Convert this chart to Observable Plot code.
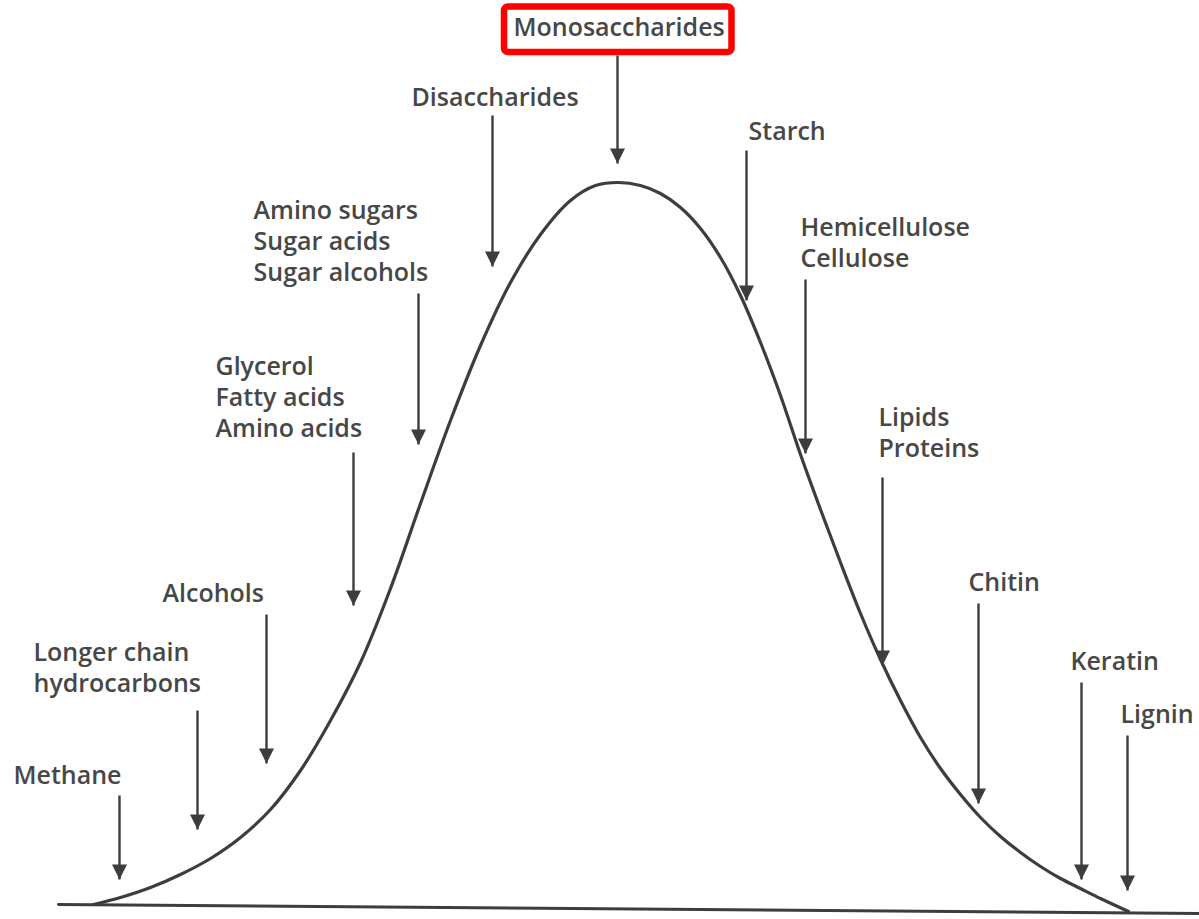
<!DOCTYPE html>
<html>
<head>
<meta charset="utf-8">
<script src="https://cdn.jsdelivr.net/npm/d3@7"></script>
<script src="https://cdn.jsdelivr.net/npm/@observablehq/plot@0.6"></script>
<style>
  html, body { margin: 0; padding: 0; background: #ffffff; }
  #chart svg { display: block; }
</style>
</head>
<body>
<div id="chart"></div>
<script>
// Bell curve (in picture units)
const curveX = [93, 120, 150, 180, 210, 240, 270, 300, 330, 360, 390, 420, 450, 480, 510, 540, 570, 595, 618,
                640, 660, 680, 700, 720, 740, 760, 780, 800, 820, 840, 860, 880, 900, 920, 940, 960, 980, 1000, 1020, 1040, 1060, 1080, 1100, 1128];
const curveY = [904, 897, 887, 874, 858, 837, 809, 770, 720, 662, 588, 503, 420, 345, 282, 234, 200, 185, 182,
                185, 193, 207, 228, 257, 295, 342, 395, 454, 509, 562, 613, 659, 700, 737, 768, 794, 817, 836, 852, 866, 878, 888, 898, 911];

// Baseline
const baseX = [58, 1199];
const baseY = [904, 913];

// Labels
const labelText = [
  "Methane",
  "Longer chain\nhydrocarbons",
  "Alcohols",
  "Glycerol\nFatty acids\nAmino acids",
  "Amino sugars\nSugar acids\nSugar alcohols",
  "Disaccharides",
  "Monosaccharides",
  "Starch",
  "Hemicellulose\nCellulose",
  "Lipids\nProteins",
  "Chitin",
  "Keratin",
  "Lignin"
];
const labelX = [13, 33, 162, 215, 253, 411, 513, 748, 800, 878, 968, 1070, 1120];
const labelY = [761, 638, 579, 352, 196, 83, 13, 117, 213, 403, 568, 647, 700];

// Arrows: x, top of shaft, tip
const arrowX   = [119, 197, 266, 353, 418, 492, 617, 746, 805, 882, 978, 1081, 1127];
const arrowTop = [795, 710, 614, 452, 293, 115, 55, 150, 279, 477, 603, 682, 735];
const arrowTip = [879, 829, 763, 605, 444, 266, 163, 300, 453, 665, 803, 879, 890];

// Highlight box around the top label
const boxX1 = [504], boxX2 = [731.5], boxY1 = [6.5], boxY2 = [52];

const curve = curveX.map((x, i) => ({x, y: curveY[i]}));
const base = baseX.map((x, i) => ({x, y: baseY[i]}));
const labels = labelText.map((t, i) => ({t, x: labelX[i], y: labelY[i]}));
const arrows = arrowX.map((x, i) => ({x, y1: arrowTop[i], y2: arrowTip[i]}));
const box = boxX1.map((x1, i) => ({x1, x2: boxX2[i], y1: boxY1[i], y2: boxY2[i]}));

const downTriangle = {
  draw(ctx) {
    ctx.moveTo(0, 0);
    ctx.lineTo(-7.5, -15);
    ctx.lineTo(7.5, -15);
    ctx.closePath();
  }
};

const ink = "#3d3d3d";
const textInk = "#474747";

const chart = Plot.plot({
  width: 1199,
  height: 919,
  margin: 0,
  style: {background: "#ffffff", overflow: "visible"},
  x: {domain: [0, 1199], range: [0, 1199], axis: null},
  y: {domain: [0, 919], range: [0, 919], axis: null},
  marks: [
    Plot.line(base, {x: "x", y: "y", stroke: ink, strokeWidth: 3}),
    Plot.line(curve, {x: "x", y: "y", curve: "catmull-rom", stroke: ink, strokeWidth: 3.2}),
    Plot.link(arrows, {x1: "x", x2: "x", y1: "y1", y2: "y2", stroke: ink, strokeWidth: 2.4}),
    Plot.dot(arrows, {x: "x", y: "y2", symbol: downTriangle, fill: ink, stroke: "none", r: 6}),
    Plot.text(labels, {
      x: "x", y: "y", text: "t",
      textAnchor: "start", lineAnchor: "top", lineHeight: 1.24,
      fontFamily: "Open Sans", fontWeight: 600, fontSize: 25,
      fill: textInk
    }),
    Plot.rect(box, {x1: "x1", x2: "x2", y1: "y1", y2: "y2", fill: "none", stroke: "#ff0000", strokeWidth: 6.5, rx: 4})
  ]
});

document.getElementById("chart").appendChild(chart);
</script>
</body>
</html>
